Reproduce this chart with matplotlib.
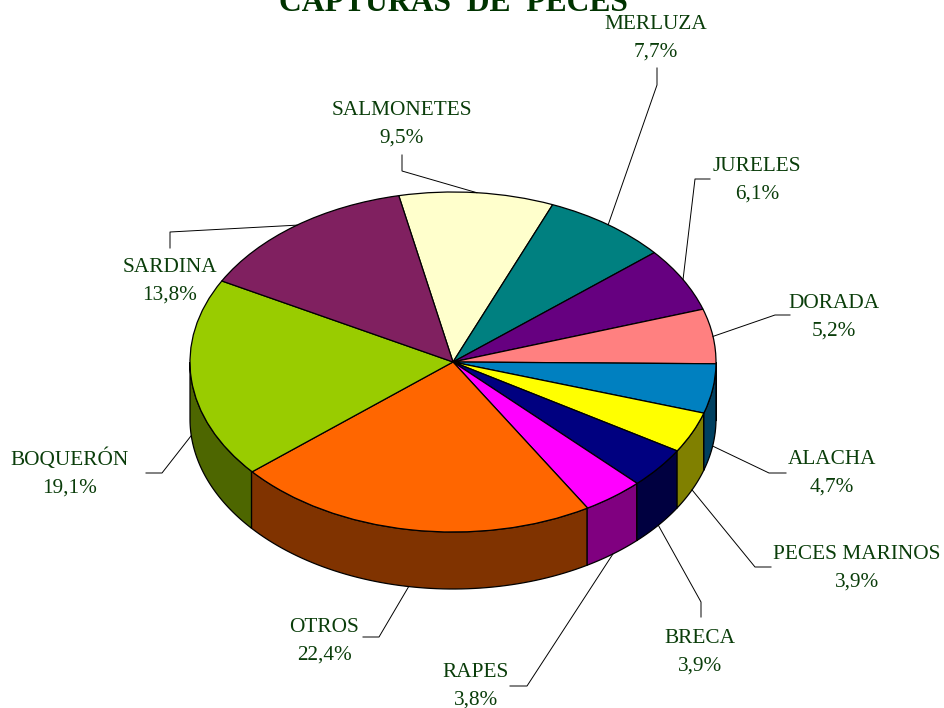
import numpy as np
import matplotlib
matplotlib.use('Agg')
import matplotlib.pyplot as plt

plt.rcParams['font.family'] = ['Liberation Serif', 'DejaVu Serif']

names = ['SALMONETES', 'MERLUZA', 'JURELES', 'DORADA', 'ALACHA', 'PECES MARINOS',
         'BRECA', 'RAPES', 'OTROS', 'BOQUERÓN', 'SARDINA']
values = [9.5, 7.7, 6.1, 5.2, 4.7, 3.9, 3.9, 3.8, 22.4, 19.1, 13.8]
colors = ['#FFFFCC', '#008080', '#660080', '#FF8080', '#0080C0', '#FFFF00',
          '#000080', '#FF00FF', '#FF6600', '#99CC00', '#802060']

# layout in pixels of the picture
W, H = 944, 708
CX, CY = 453, 362
RX, RY = 263, 170
DEPTH = 57
START = 101.9
label_pos = [(402, 124), (656, 38), (757, 180), (834, 317), (832, 473), (857, 568),
             (700, 652), (476, 686), (324, 641), (70, 473), (170, 281)]
elbows = [[(402, 155), (402, 171)], [(657, 68), (657, 85)], [(710, 179), (695, 179)],
          [(790, 315), (775, 315)], [(786, 473), (769, 473)], [(771, 567), (755, 567)],
          [(701, 617), (701, 602)], [(510, 686), (527, 686)], [(363, 637), (379, 637)],
          [(146, 473), (162, 473)], [(170, 248), (170, 232)]]

fig = plt.figure(figsize=(W / 100, H / 100), dpi=100)
ax = fig.add_axes([0, 0, 1, 1])

wedges, _ = ax.pie(values, colors=colors, startangle=START, counterclock=False, radius=1,
                   wedgeprops=dict(edgecolor='black', linewidth=0.9, zorder=3))
ax.set_aspect('auto')
ax.set_xlim(-CX / RX, (W - CX) / RX)
ax.set_ylim(-(H - CY) / RY, CY / RY)
ax.axis('off')

d = DEPTH / RY
edges = START - np.cumsum([0] + values) * 3.6

# side wall, only where the rim faces the viewer
for i, c in enumerate(colors):
    a0, a1 = edges[i + 1], edges[i]
    lo, hi = max(a0, -180), min(a1, 0)
    if hi <= lo:
        continue
    t = np.radians(np.linspace(lo, hi, 60))
    x = np.cos(t)
    wall = [v * 0.5 for v in matplotlib.colors.to_rgb(c)]
    ax.fill(np.r_[x, x[::-1]], np.r_[np.sin(t), np.sin(t)[::-1] - d], facecolor=wall,
            edgecolor='black', linewidth=0.9, zorder=2)

# overlay in pixels for leaders and texts
ov = fig.add_axes([0, 0, 1, 1])
ov.set_xlim(0, W)
ov.set_ylim(H, 0)
ov.axis('off')
ov.patch.set_alpha(0)

for i, name in enumerate(names):
    mid = np.radians((edges[i] + edges[i + 1]) / 2)
    ax_x = CX + RX * np.cos(mid)
    ax_y = CY - RY * np.sin(mid)
    if np.sin(mid) < 0 and i != 3:
        ax_y += DEPTH
    pts = elbows[i] + [(ax_x, ax_y)]
    ov.plot([p[0] for p in pts], [p[1] for p in pts], color='black', lw=0.7)
    txt = f'{name}\n{values[i]:.1f}%'.replace('.', ',')
    ov.text(label_pos[i][0], label_pos[i][1], txt, ha='center', va='center',
            fontsize=15.3, color='#0A3D0A', linespacing=1.62)

# title is cut by the top edge in the reference too
ov.text(453, 11, 'CAPTURAS  DE  PECES', ha='center', va='baseline', fontsize=22.8,
        fontweight='bold', color='#003300')

fig.savefig('out.png', dpi=100)
